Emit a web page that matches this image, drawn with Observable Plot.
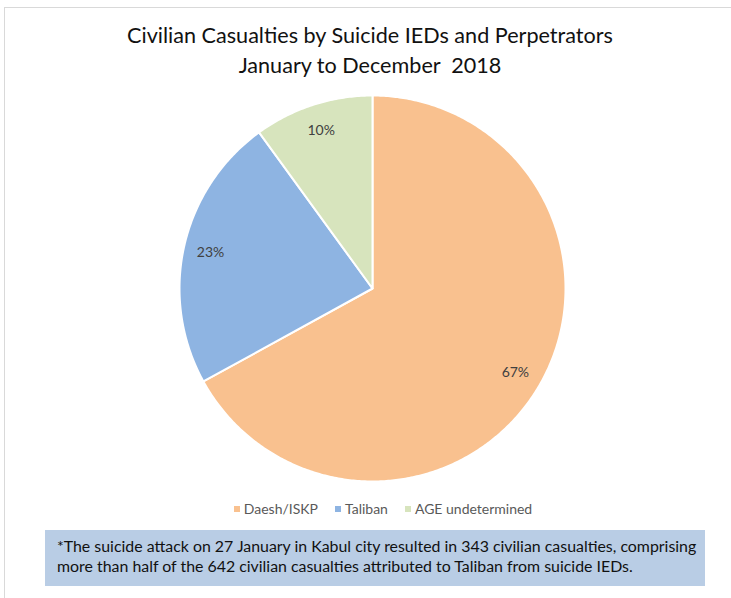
<!DOCTYPE html>
<html>
<head>
<meta charset="utf-8">
<script src="https://cdn.jsdelivr.net/npm/d3@7"></script>
<script src="https://cdn.jsdelivr.net/npm/@observablehq/plot@0.6"></script>
<style>
  html, body { margin: 0; padding: 0; background: #fff; }
  body { width: 731px; height: 598px; position: relative; overflow: hidden; font-family: Lato, "Open Sans", sans-serif; }
  #frame { position: absolute; left: 4px; top: 7px; width: 740px; height: 600px; border-top: 1px solid #d9d9d9; border-left: 1px solid #d9d9d9; }
  #title { position: absolute; left: 0; width: 740px; top: 20px; text-align: center; font-size: 21.6px; line-height: 30px; color: #111; }
  #chart { position: absolute; left: 162px; top: 78px; }
  #legend { position: absolute; top: 500px; left: 0; width: 766px; display: flex; justify-content: center; gap: 17px; font-size: 14px; color: #595959; }
  #legend .item { display: flex; align-items: center; }
  #legend .sw { width: 6px; height: 6px; margin-right: 4px; }
  #note { position: absolute; left: 45px; top: 530px; width: 660px; height: 56px; background: #B9CDE5; box-sizing: border-box; padding: 6px 0 0 12px; font-size: 15.9px; line-height: 20px; color: #111; white-space: nowrap; }
</style>
</head>
<body>
<div id="frame"></div>
<div id="title">Civilian Casualties by Suicide IEDs and Perpetrators<br>January to December&nbsp; 2018</div>
<div id="chart"></div>
<div id="legend"></div>
<div id="note">*The suicide attack on 27 January in Kabul city resulted in 343 civilian casualties, comprising<br>more than half of the 642 civilian casualties attributed to Taliban from suicide IEDs.</div>
<script>
const categories = ["Daesh/ISKP", "Taliban", "AGE undetermined"];
const shares = [67, 23, 10];
const colors = ["#F9C18F", "#8EB4E2", "#D7E4BD"];

const arcs = d3.pie().sort(null).value(d => d)(shares);
const polyPts = [];
const labels = [];
arcs.forEach((a, i) => {
  const cat = categories[i];
  polyPts.push({cat, x: 0, y: 0});
  const n = Math.max(2, Math.ceil((a.endAngle - a.startAngle) / 0.01));
  for (let k = 0; k <= n; k++) {
    const t = a.startAngle + (a.endAngle - a.startAngle) * k / n;
    polyPts.push({cat, x: Math.sin(t), y: Math.cos(t)});
  }
  polyPts.push({cat, x: 0, y: 0});
  const m = (a.startAngle + a.endAngle) / 2;
  labels.push({cat, x: 0.86 * Math.sin(m), y: 0.86 * Math.cos(m), text: shares[i] + "%"});
});

const size = 420, R = 193;
const half = size / 2 / R;
const chart = Plot.plot({
  width: size, height: size, margin: 0,
  x: {domain: [-half, half], axis: null},
  y: {domain: [-half, half], axis: null},
  color: {domain: categories, range: colors},
  style: {background: "transparent", overflow: "visible"},
  marks: [
    Plot.line(polyPts, {x: "x", y: "y", z: "cat", fill: "cat", stroke: "white", strokeWidth: 2, strokeLinejoin: "round", curve: "linear"}),
    Plot.text(labels, {x: "x", y: "y", text: "text", fill: "#404040", fontSize: 14, fontFamily: "Lato, sans-serif"})
  ]
});
document.getElementById("chart").appendChild(chart);

const legend = document.getElementById("legend");
categories.forEach((c, i) => {
  const it = document.createElement("div");
  it.className = "item";
  it.innerHTML = `<span class="sw" style="background:${colors[i]}"></span><span>${c}</span>`;
  legend.appendChild(it);
});
</script>
</body>
</html>
